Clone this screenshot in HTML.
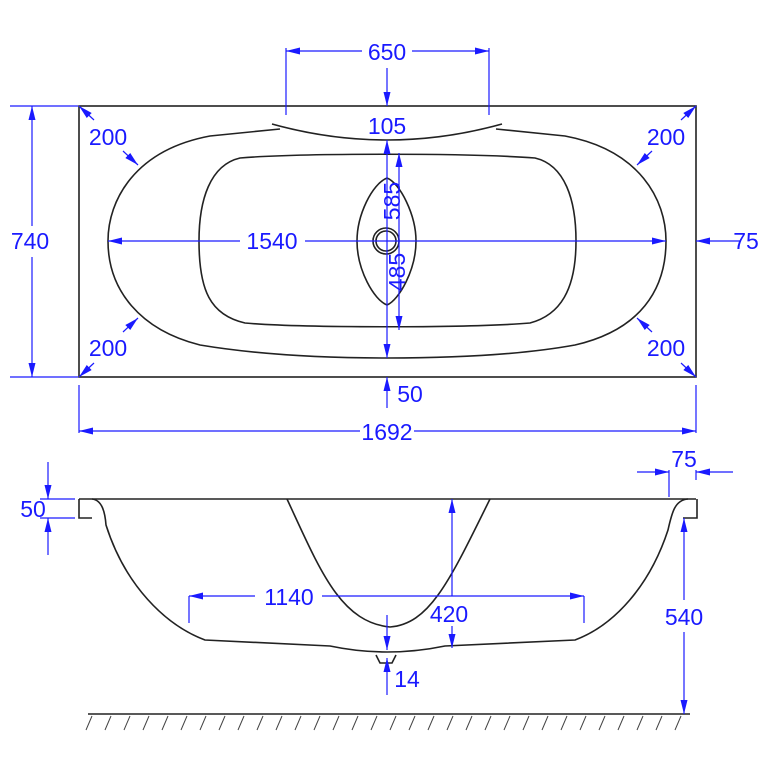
<!DOCTYPE html>
<html><head><meta charset="utf-8"><style>
html,body{margin:0;padding:0;background:#fff}
svg{display:block}
text{font-family:"Liberation Sans Narrow","Liberation Sans",sans-serif;font-size:23px;fill:#1a1aff}
</style></head><body>
<svg width="768" height="768" viewBox="0 0 768 768" xmlns="http://www.w3.org/2000/svg">
<defs>
<marker id="a" viewBox="0 0 14 7" refX="14" refY="3.5" markerWidth="14" markerHeight="7" markerUnits="userSpaceOnUse" orient="auto"><path d="M0,0 L14,3.5 L0,7 Z" fill="#1a1aff"/></marker>
</defs>
<g fill="none" stroke="#222" stroke-width="1.6">
<rect x="79" y="106" width="617" height="271"/>
<path d="M272,124 Q387,156 502,124"/>
<path d="M280,129 L210,136 C135,150 108,200 108,241 C108,290 140,330 200,345 C260,355 330,358 387,358 C450,358 520,355 575,345 C640,330 666,290 666,241 C666,200 640,150 565,136 L496,129"/>
<path d="M240,158 C300,153 470,153 535,158 C565,165 576,200 576,241 C576,290 560,315 530,323 C470,328 300,328 245,323 C210,315 199,290 199,241 C199,200 210,165 240,158 Z"/>
<path d="M387,178 C372,184 357,215 357,241 C357,270 374,300 387,305 C399,300 416,270 416,241 C416,215 400,183 387,178 Z"/>
<circle cx="386" cy="241" r="13"/><circle cx="386" cy="241" r="10"/>
<path d="M79,499 L696,499"/>
<path d="M92,518 L79,518 L79,499"/>
<path d="M683,518 L697,518 L697,499"/>
<path d="M92,499 C102,500 105,512 106,525 C125,585 165,625 205,640 L330,646 Q387,658 445,646 L575,640 C615,625 650,585 668,530 C672,512 675,500 688,499"/>
<path d="M376,655 L380,663 L392,663 L396,655"/>
<path d="M287,499 C320,570 340,622 390,627 C430,624 450,580 490,499"/>
<path d="M88,714 L690,714"/>
</g>
<g stroke="#444" stroke-width="1">
<path d="M92,716l-6,14M111,716l-6,14M130,716l-6,14M149,716l-6,14M168,716l-6,14M187,716l-6,14M206,716l-6,14M225,716l-6,14M244,716l-6,14M263,716l-6,14M282,716l-6,14M301,716l-6,14M320,716l-6,14M339,716l-6,14M358,716l-6,14M377,716l-6,14M396,716l-6,14M415,716l-6,14M434,716l-6,14M453,716l-6,14M472,716l-6,14M491,716l-6,14M510,716l-6,14M529,716l-6,14M548,716l-6,14M567,716l-6,14M586,716l-6,14M605,716l-6,14M624,716l-6,14M643,716l-6,14M662,716l-6,14M681,716l-6,14"/>
</g>
<g stroke="#1a1aff" stroke-width="1.2" fill="none">
<path d="M286,48 V115 M489,48 V115"/>
<path d="M362,51 H286" marker-end="url(#a)"/><path d="M412,51 H489" marker-end="url(#a)"/>
<path d="M387,68 V106" marker-end="url(#a)"/>
<path d="M10,106 H78 M10,377 H78"/>
<path d="M32,226 V106" marker-end="url(#a)"/><path d="M32,257 V377" marker-end="url(#a)"/>
<path d="M240,241 H108" marker-end="url(#a)"/><path d="M305,241 H666" marker-end="url(#a)"/>
<path d="M387,241 V140" marker-end="url(#a)"/><path d="M387,241 V358" marker-end="url(#a)"/>
<path d="M399,241 V153" marker-end="url(#a)"/><path d="M399,241 V330" marker-end="url(#a)"/>
<path d="M740,241 H696" marker-end="url(#a)"/>
<path d="M387,408 V377" marker-end="url(#a)"/>
<path d="M79,385 V433 M696,385 V433"/>
<path d="M360,431 H79" marker-end="url(#a)"/><path d="M414,431 H696" marker-end="url(#a)"/>
<path d="M40,499 H75 M40,518 H75"/>
<path d="M48,462 V499" marker-end="url(#a)"/><path d="M48,555 V518" marker-end="url(#a)"/>
<path d="M669,470 V497 M696,470 V480"/>
<path d="M637,472 H669" marker-end="url(#a)"/><path d="M733,472 H696" marker-end="url(#a)"/>
<path d="M684,600 V518" marker-end="url(#a)"/><path d="M684,632 V714" marker-end="url(#a)"/>
<path d="M189,596 V623 M584,596 V623"/>
<path d="M255,596 H189" marker-end="url(#a)"/><path d="M322,596 H584" marker-end="url(#a)"/>
<path d="M452,596 V499" marker-end="url(#a)"/><path d="M452,626 V648" marker-end="url(#a)"/>
<path d="M387,615 V650" marker-end="url(#a)"/><path d="M387,695 V658" marker-end="url(#a)"/>
<path d="M94,120 L79,106" marker-end="url(#a)"/><path d="M123,151 L138,165" marker-end="url(#a)"/>
<path d="M681,120 L696,106" marker-end="url(#a)"/><path d="M652,151 L637,165" marker-end="url(#a)"/>
<path d="M94,363 L79,377" marker-end="url(#a)"/><path d="M123,332 L138,318" marker-end="url(#a)"/>
<path d="M681,363 L696,377" marker-end="url(#a)"/><path d="M652,332 L637,318" marker-end="url(#a)"/>
</g>
<g text-anchor="middle">
<text x="387" y="60">650</text>
<text x="387" y="134">105</text>
<text x="30" y="249">740</text>
<text x="272" y="249">1540</text>
<text x="746" y="249">75</text>
<text x="410" y="402">50</text>
<text x="387" y="440">1692</text>
<text x="108" y="145">200</text>
<text x="666" y="145">200</text>
<text x="108" y="356">200</text>
<text x="666" y="356">200</text>
<text transform="translate(400,201) rotate(-90)">585</text>
<text transform="translate(405,272) rotate(-90)">485</text>
<text x="33" y="517">50</text>
<text x="684" y="467">75</text>
<text x="684" y="625">540</text>
<text x="289" y="605">1140</text>
<text x="449" y="622">420</text>
<text x="407" y="687">14</text>
</g>
</svg>
</body></html>
